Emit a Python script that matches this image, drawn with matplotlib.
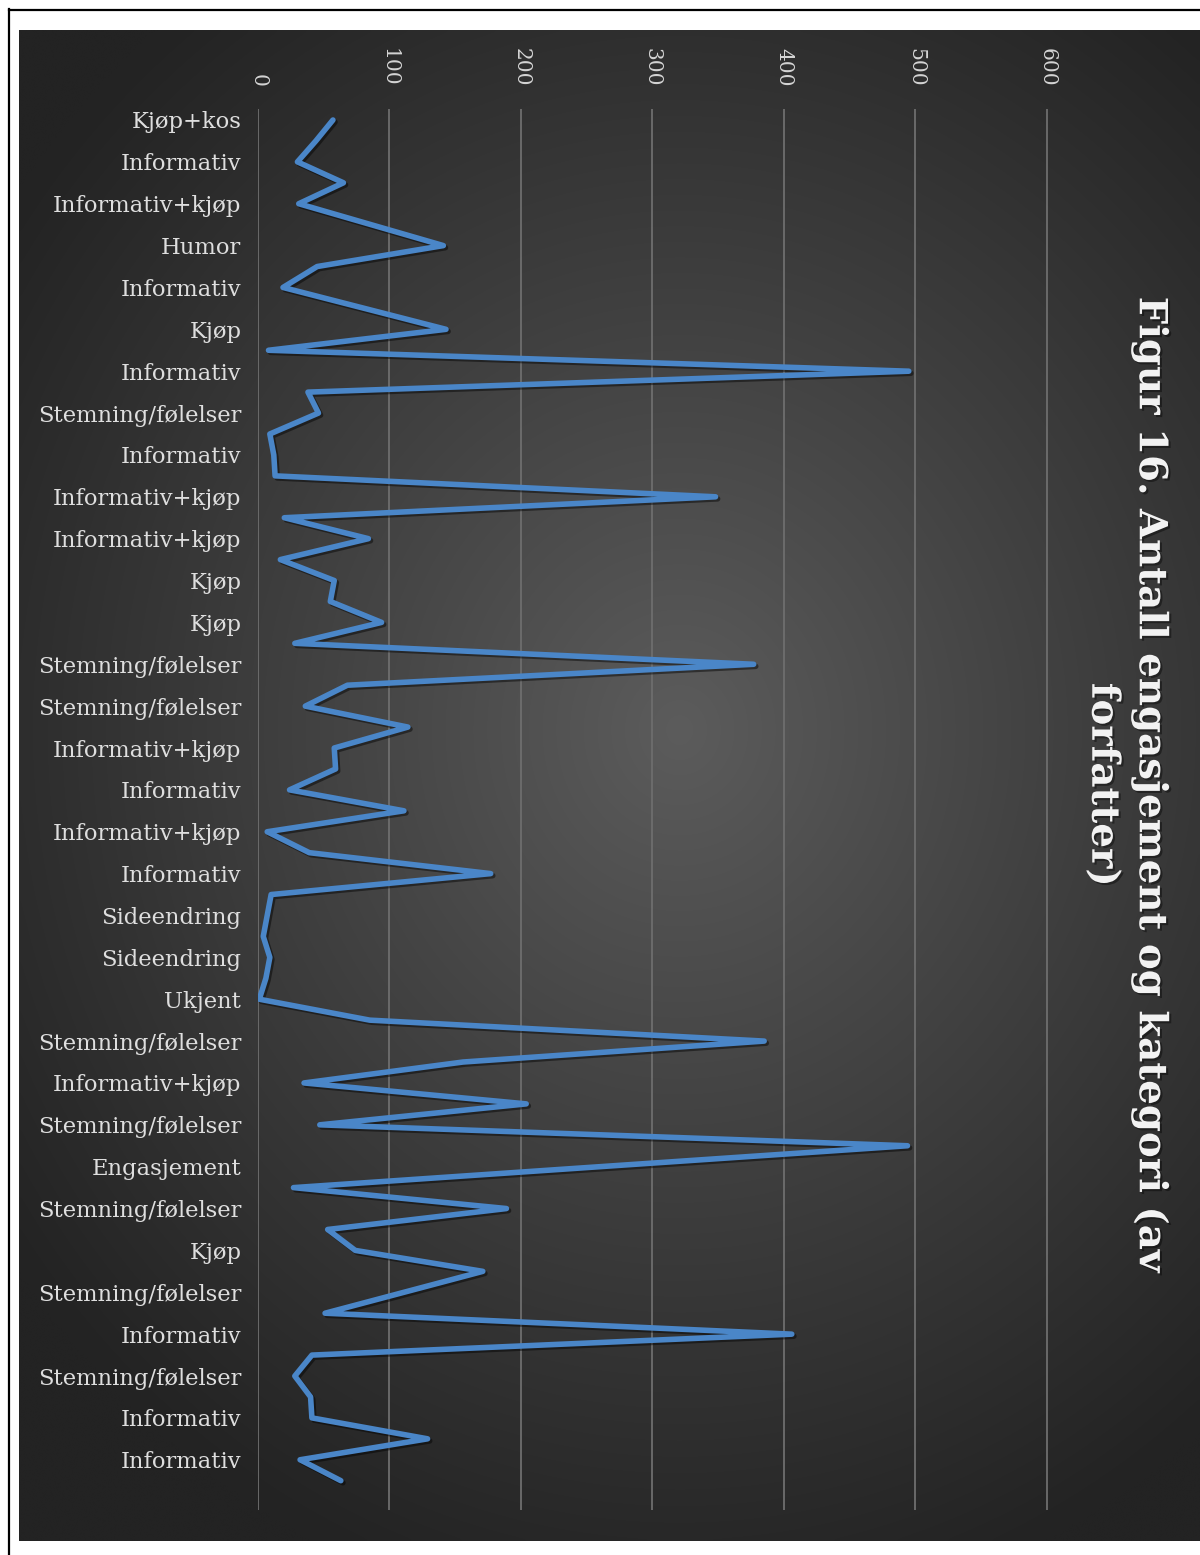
import numpy as np
import matplotlib
matplotlib.use("Agg")
import matplotlib.pyplot as plt
from matplotlib import patheffects as pe

# Category labels shown on the axis (every second post is labelled)
categories = [
    "Kjøp+kos", "Informativ", "Informativ+kjøp", "Humor", "Informativ",
    "Kjøp", "Informativ", "Stemning/følelser", "Informativ", "Informativ+kjøp",
    "Informativ+kjøp", "Kjøp", "Kjøp", "Stemning/følelser", "Stemning/følelser",
    "Informativ+kjøp", "Informativ", "Informativ+kjøp", "Informativ", "Sideendring",
    "Sideendring", "Ukjent", "Stemning/følelser", "Informativ+kjøp",
    "Stemning/følelser", "Engasjement", "Stemning/følelser", "Kjøp",
    "Stemning/følelser", "Informativ", "Stemning/følelser", "Informativ",
    "Informativ",
]

# Engagement per post, in publishing order
engagement = [
    57, 44, 30, 65, 31, 86, 141, 45, 19, 81,
    143, 8, 495, 38, 46, 9, 12, 13, 348, 20,
    84, 17, 58, 55, 94, 28, 377, 68, 36, 114,
    58, 59, 24, 111, 7, 39, 177, 10, 7, 4,
    9, 6, 1, 85, 385, 156, 35, 204, 47, 494,
    260, 27, 189, 53, 74, 171, 111, 51, 406, 41,
    28, 40, 41, 129, 32, 63,
]

value_ticks = [0, 100, 200, 300, 400, 500, 600]

W, H = 1200, 1555
fig = plt.figure(figsize=(W / 100, H / 100), dpi=100)
fig.patch.set_facecolor("white")

# Thin outer frame
frame = fig.add_axes([0, 0, 1, 1])
frame.set_xlim(0, W)
frame.set_ylim(H, 0)
frame.axis("off")
frame.plot([9, 9], [9, H], color="black", lw=1.6)
frame.plot([9, W], [10, 10], color="black", lw=1.6)

# Dark panel with a soft radial gradient
px0, py0, px1, py1 = 19, 30, 1200, 1541
bg = fig.add_axes([px0 / W, 1 - py1 / H, (px1 - px0) / W, (py1 - py0) / H])
gh, gw = 400, 320
yy, xx = np.mgrid[py0:py1:gh * 1j, px0:px1:gw * 1j]
cx, cy = 680, 730
r = np.sqrt(((xx - cx) / 820) ** 2 + ((yy - cy) / 900) ** 2)
light, dark = 0x5c / 255, 0x23 / 255
val = dark + (light - dark) * np.clip(1 - r, 0, 1) ** 1.05
bg.imshow(np.dstack([val, val, val]), aspect="auto", interpolation="bicubic",
          extent=[0, 1, 0, 1])
bg.axis("off")

# Plot area
ax_l, ax_r, ax_t, ax_b = 258, 1060, 109, 1510
ax = fig.add_axes([ax_l / W, 1 - ax_b / H, (ax_r - ax_l) / W, (ax_b - ax_t) / H])
ax.patch.set_alpha(0)

idx = np.arange(len(engagement))
ax.plot(engagement, idx, color="#4a86c8", lw=4.0, solid_joinstyle="round",
        solid_capstyle="round", zorder=3,
        path_effects=[pe.SimpleLineShadow(offset=(1.5, -1.5), shadow_color="black",
                                          alpha=0.45),
                      pe.Normal()])

ax.set_xlim(0, 610)
ax.set_ylim(66.4, -0.525)
ax.set_xticks(value_ticks)
ax.xaxis.tick_top()
ax.tick_params(axis="x", length=0, pad=16, labelrotation=-90, labelsize=14.5,
               labelcolor="#d4d4d4")
for t in ax.get_xticklabels():
    t.set_family("DejaVu Serif")

ax.set_yticks(idx[::2])
ax.set_yticklabels(categories, family="DejaVu Serif")
ax.tick_params(axis="y", length=0, pad=12, labelsize=16.3, labelcolor="#dedede")

ax.grid(axis="x", color="#6e6e6e", lw=1.3, zorder=1)
ax.grid(axis="y", visible=False)
for s in ax.spines.values():
    s.set_visible(False)

fig.text(1127 / W, 1 - 785 / H,
         "Figur 16. Antall engasjement og kategori (av\nforfatter)",
         rotation=-90, ha="center", va="center", multialignment="center",
         fontsize=27.9, fontweight="bold", color="#f2f2f2", family="DejaVu Serif",
         linespacing=1.3,
         path_effects=[pe.withSimplePatchShadow(offset=(1.5, -1.5),
                                                shadow_rgbFace="black", alpha=0.4)])

fig.savefig("out.png", dpi=100)
